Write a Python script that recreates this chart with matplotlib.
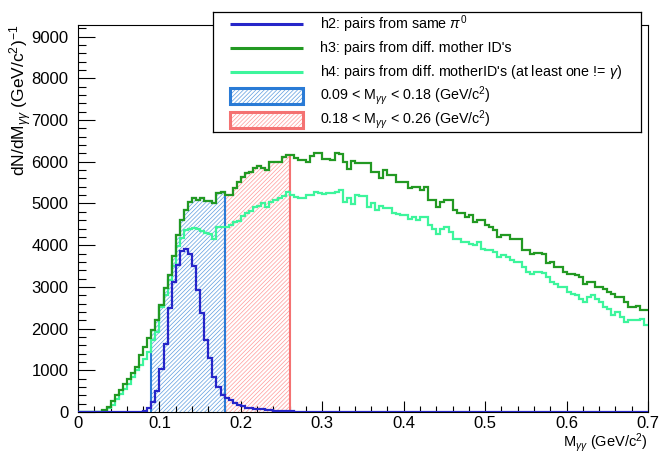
import numpy as np
import matplotlib
matplotlib.use("Agg")
import matplotlib.pyplot as plt
from matplotlib.patches import Rectangle
from matplotlib.ticker import MultipleLocator

plt.rcParams["font.family"] = ["Liberation Sans", "DejaVu Sans"]
plt.rcParams["mathtext.fontset"] = "custom"
plt.rcParams["mathtext.rm"] = "Liberation Sans"
plt.rcParams["mathtext.it"] = "Liberation Sans:italic"
plt.rcParams["hatch.linewidth"] = 0.5

# ── data: 140 bins, 0 - 0.7 GeV/c^2 ─────────────────────────────────────────
edges = np.linspace(0.0, 0.7, 141)

# h2: pairs from same pi0
h2 = [0, 0, 0, 0, 0, 0, 0, 0, 0, 0,
      0, 0, 0, 0, 5, 10, 20, 88, 230, 500,
      1030, 1630, 2490, 3120, 3520, 3850, 3900, 3780, 3490, 2930,
      2370, 1730, 1290, 850, 610, 410, 340, 290, 210, 175,
      150, 100, 90, 80, 65, 60, 55, 40, 35, 30,
      30, 20, 12, 10, 10, 9, 8, 8, 7, 6,
      6, 5, 5, 4, 4, 4, 4, 3, 3, 3,
      3, 3, 3, 3, 2, 2, 2, 2, 2, 2,
      2, 2, 2, 2, 2, 2, 2, 2, 2, 2,
      1, 1, 1, 1, 1, 1, 1, 1, 1, 1,
      1, 1, 1, 1, 1, 1, 1, 1, 1, 1,
      1, 1, 1, 1, 1, 1, 1, 1, 1, 1,
      1, 1, 1, 1, 1, 1, 1, 1, 1, 1,
      1, 1, 1, 1, 1, 1, 1, 1, 1, 1]

# h3: pairs from different mother IDs
h3 = [0, 0, 0, 0, 0, 0, 40, 130, 260, 400,
      520, 660, 800, 930, 1090, 1370, 1570, 1770, 1970, 2210,
      2570, 2970, 3290, 3730, 4250, 4600, 4840, 5040, 5120, 5080,
      5120, 5070, 5050, 5010, 5240, 5280, 5200, 5200, 5360, 5520,
      5640, 5720, 5760, 5840, 5900, 5850, 5800, 6000, 6000, 6000,
      6120, 6160, 6160, 6080, 6050, 6040, 6000, 6130, 6200, 6200,
      6060, 6060, 6040, 6220, 6180, 6000, 5820, 6020, 5960, 5960,
      5960, 5960, 5760, 5760, 5600, 5800, 5680, 5680, 5520, 5520,
      5520, 5360, 5400, 5400, 5320, 5400, 5080, 5080, 4920, 5040,
      5080, 5080, 4840, 4760, 4760, 4680, 4720, 4560, 4600, 4600,
      4480, 4440, 4360, 4200, 4240, 4240, 4160, 4140, 4140, 3880,
      3880, 3800, 3820, 3820, 3800, 3570, 3600, 3480, 3480, 3360,
      3320, 3320, 3280, 3240, 3080, 3120, 3120, 3000, 3000, 2960,
      2880, 2840, 2760, 2760, 2640, 2510, 2510, 2540, 2440, 2450]

# h4: pairs from different mother IDs (at least one != gamma)
h4 = [0, 0, 0, 0, 0, 0, 20, 90, 170, 320,
      440, 560, 680, 850, 1000, 1130, 1260, 1450, 1730, 1930,
      2520, 2810, 3170, 3490, 3970, 4170, 4370, 4400, 4410, 4380,
      4350, 4300, 4280, 4160, 4430, 4430, 4440, 4490, 4560, 4570,
      4700, 4780, 4830, 4920, 4930, 5000, 4920, 5040, 5080, 5120,
      5170, 5280, 5200, 5150, 5120, 5120, 5200, 5200, 5280, 5240,
      5230, 5240, 5240, 5280, 5320, 5040, 5120, 4980, 5200, 5170,
      5170, 4920, 5000, 4840, 4930, 4880, 4880, 4780, 4750, 4720,
      4720, 4640, 4680, 4600, 4680, 4680, 4480, 4400, 4280, 4400,
      4440, 4320, 4160, 4160, 4080, 4080, 4040, 4000, 4080, 3920,
      3880, 3880, 3840, 3720, 3760, 3720, 3640, 3600, 3600, 3480,
      3360, 3320, 3360, 3360, 3340, 3240, 3120, 3080, 3000, 3000,
      2880, 2840, 2800, 2720, 2640, 2760, 2800, 2700, 2640, 2520,
      2460, 2320, 2400, 2280, 2160, 2200, 2200, 2200, 2240, 2080]

# mass windows (GeV/c^2)
win_pi0 = (0.09, 0.18)
win_side = (0.18, 0.26)

labels = ["h2: pairs from same $\\pi^{0}$",
          "h3: pairs from diff. mother ID's",
          "h4: pairs from diff. motherID's (at least one != $\\gamma$)",
          "0.09 < $\\mathrm{M}_{\\gamma\\gamma}$ < 0.18 (GeV/$\\mathrm{c}^{2}$)",
          "0.18 < $\\mathrm{M}_{\\gamma\\gamma}$ < 0.26 (GeV/$\\mathrm{c}^{2}$)"]

# ── colours ─────────────────────────────────────────────────────────────────
C_H2 = "#2626c9"
C_H3 = "#229922"
C_H4 = "#3df59c"
C_BLUE = "#2a7bd6"
C_BLUE_H = "#5f9ddf"
C_RED = "#f47272"
C_RED_H = "#ff9a9a"
HATCH = "////////"

W, H = 660, 454
fig = plt.figure(figsize=(W / 100, H / 100), dpi=100)
fig.patch.set_facecolor("white")
ax = fig.add_axes([78 / W, 1 - 412 / H, 570 / W, 387 / H])

h2 = np.array(h2, float)
h3 = np.array(h3, float)
h4 = np.array(h4, float)


def window(lo, hi):
    i0 = int(round(lo / 0.005))
    i1 = int(round(hi / 0.005))
    return i0, i1


# hatched mass windows (taken from h3)
for (lo, hi), ec, hc in [(win_side, C_RED, C_RED_H), (win_pi0, C_BLUE, C_BLUE_H)]:
    i0, i1 = window(lo, hi)
    ax.stairs(h3[i0:i1], edges[i0:i1 + 1], fill=True, facecolor="none",
              edgecolor=hc, hatch=HATCH, linewidth=0, zorder=1)
    ax.stairs(h3[i0:i1], edges[i0:i1 + 1], baseline=0, color=ec, lw=1.5,
              zorder=2)

ax.stairs(h4, edges, baseline=None, color=C_H4, lw=1.6, zorder=3)
ax.stairs(h3, edges, baseline=None, color=C_H3, lw=1.6, zorder=4)
ax.stairs(h2, edges, baseline=None, color=C_H2, lw=1.6, zorder=5)

ax.set_xlim(0, 0.7)
ax.set_ylim(0, 9280)
ax.xaxis.set_major_locator(MultipleLocator(0.1))
ax.xaxis.set_minor_locator(MultipleLocator(0.02))
ax.yaxis.set_major_locator(MultipleLocator(1000))
ax.yaxis.set_minor_locator(MultipleLocator(200))
ax.set_xticklabels([f"{v:g}" for v in ax.get_xticks()])
ax.tick_params(axis="both", which="both", direction="in", top=False,
               right=False, labelsize=12, width=0.8)
ax.tick_params(axis="y", which="major", length=12, pad=7)
ax.tick_params(axis="y", which="minor", length=6)
ax.tick_params(axis="x", which="major", length=8, pad=3)
ax.tick_params(axis="x", which="minor", length=4)
for s in ax.spines.values():
    s.set_linewidth(0.8)

ax.text(1.0, -0.08, "$\\mathrm{M}_{\\gamma\\gamma}$ (GeV/$\\mathrm{c}^{2}$)",
        transform=ax.transAxes, ha="right", va="center", fontsize=10.5)
ax.text(-0.1, 1.0,
        "dN/dM$_{\\gamma\\gamma}$ (GeV/$\\mathrm{c}^{2}$)$^{-1}$",
        transform=ax.transAxes, ha="center", va="top", rotation=90,
        fontsize=12.5)

# ── legend box (drawn by hand, pixel coordinates) ───────────────────────────
lx0, ly0, lw_, lh_ = 213, 12, 428, 120
lax = fig.add_axes([lx0 / W, 1 - (ly0 + lh_) / H, lw_ / W, lh_ / H])
lax.set_xlim(0, lw_)
lax.set_ylim(lh_, 0)
lax.set_xticks([])
lax.set_yticks([])
lax.set_facecolor("white")
for s in lax.spines.values():
    s.set_linewidth(0.9)

rows = [12, 36, 60, 84, 108]
for y, c in zip(rows[:3], [C_H2, C_H3, C_H4]):
    lax.plot([17, 90], [y, y], color=c, lw=2.2, solid_capstyle="butt")
for y, ec, hc in [(rows[3], C_BLUE, C_BLUE_H), (rows[4], C_RED, C_RED_H)]:
    lax.add_patch(Rectangle((17, y - 8), 73, 16, facecolor="none",
                            edgecolor=hc, hatch=HATCH, lw=0))
    lax.add_patch(Rectangle((17, y - 8), 73, 16, facecolor="none",
                            edgecolor=ec, lw=2.2))
for y, t in zip(rows, labels):
    lax.text(107, y, t, ha="left", va="center", fontsize=10.3)

fig.savefig("out.png", dpi=100, facecolor="white")
